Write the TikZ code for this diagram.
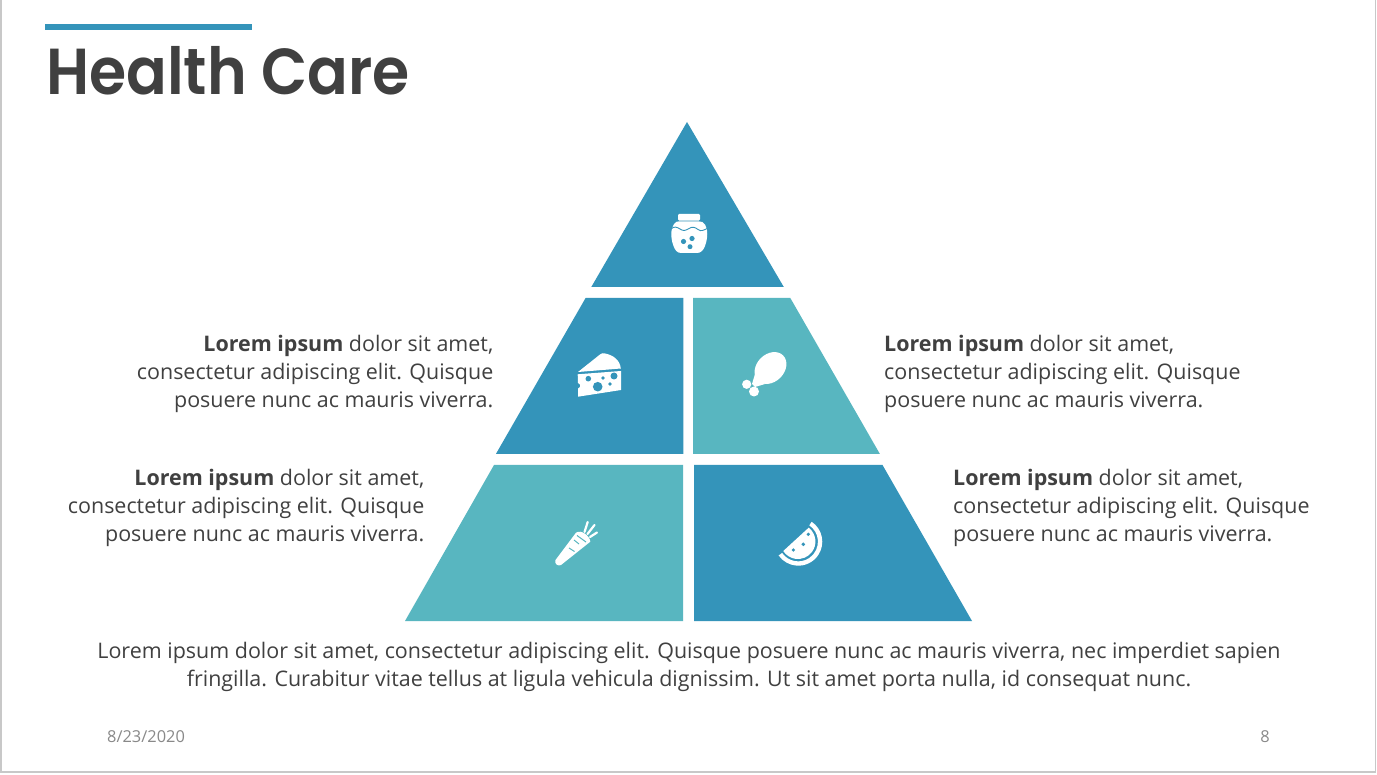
\documentclass[tikz,border=0pt]{standalone}
\usepackage{fontspec}
\usepackage{graphicx}
\setmainfont{Open Sans}
\newfontfamily\titlefont{Poppins}[BoldFont={Poppins SemiBold}]
\definecolor{blu}{HTML}{3494BA}
\definecolor{tea}{HTML}{58B6C0}
\definecolor{ink}{HTML}{404040}
\definecolor{foot}{HTML}{898989}
\definecolor{edge}{HTML}{C8C8C8}
\tikzset{
  para/.style={inner sep=0pt,text=ink,font=\fontsize{21.45}{28}\selectfont},
  ico/.style={fill=white,draw=none},
  hole/.style={fill=blu,draw=none},
  footer/.style={inner sep=0pt,text=foot,font=\fontsize{16.4}{18}\selectfont},
}
\begin{document}
\begin{tikzpicture}[x=1pt,y=-1pt]
\useasboundingbox (0,0) rectangle (1377,775);
\fill[white] (0,0) rectangle (1377,775);
\draw[edge,line width=1.2pt] (1,0) -- (1,772) -- (1375.5,772) -- (1375.5,0);
\fill[blu] (45,24) rectangle (252,30);
\node[anchor=base west,inner sep=0pt,text=ink,font=\fontsize{65}{65}\selectfont\titlefont\bfseries] (title) at (46,94.5) {\scalebox{0.925}[1]{Health Care}};
% pyramid
\fill[blu] (687,122) -- (783.8,287) -- (591.3,287) -- cycle;
\fill[blu] (585.6,298) -- (683.3,298) -- (683.3,453.8) -- (496,453.8) -- cycle;
\fill[tea] (693,298) -- (790.3,298) -- (879.8,453.8) -- (693,453.8) -- cycle;
\fill[tea] (494,465) -- (683.2,465) -- (683.2,621) -- (405,621) -- cycle;
\fill[blu] (694,465) -- (882.5,465) -- (972,621) -- (694,621) -- cycle;
% jar
\fill[ico,rounded corners=1.2pt] (678,214) rectangle (700,220.6);
\fill[ico] (674,224) .. controls (675,221.5) and (678,221.3) .. (680,221.3) -- (698,221.3) .. controls (701,221.3) and (704,222) .. (705,224.5)
  .. controls (708,229) and (708,238) .. (705,246) .. controls (703.5,250) and (701,253) .. (697,253) -- (681,253) .. controls (677,253) and (675,250) .. (673.5,246)
  .. controls (670.5,238) and (670.5,229) .. (674,224) -- cycle;
\draw[blu,line width=0.9pt] (671,229) .. controls (674,226) and (677,227) .. (680,229) .. controls (683,231) and (685,231) .. (689,228.5) .. controls (692,226.5) and (695,227) .. (698,229.5) .. controls (701,232) and (704,230) .. (708,228);
\fill[hole] (683.5,241.5) circle (2.6pt) (692,238.5) circle (2.6pt) (690,246.7) circle (2.5pt);
% cheese
\fill[ico] (578,372) -- (600,354.5) .. controls (601.5,353) and (603,353) .. (605,353.5) .. controls (613,355) and (620,360) .. (620.8,368.5) -- cycle;
\fill[ico] (577.7,374.3) -- (621,371) -- (621,390) -- (578,396.7) -- (578,388.5) .. controls (581,387.5) and (581,384) .. (578,383) -- cycle;
\fill[hole] (588.3,378.7) circle (2.8pt) (603,378) circle (1.9pt) (614,376) circle (3.5pt) (597.7,386.7) circle (4.8pt) (610,384) circle (1.9pt);
% drumstick
\fill[ico,rotate around={45:(770.5,368)}] (770.5,368) ellipse (17.8pt and 13.8pt);
\fill[ico] (755,374) -- (765,384) -- (755,387) -- (752,384) -- cycle;
\fill[ico] (746.7,384.3) circle (4.6pt) (754,391.5) circle (5pt);
% carrot
\fill[ico] (576,532.7) .. controls (581,529) and (590,536) .. (590.3,541.7) -- (561,565) .. controls (558,566.5) and (554,564) .. (555.5,560) -- cycle;
\draw[tea,line width=1pt] (577,535.5) -- (586,542);
\draw[tea,line width=1pt] (574,540) -- (579,544);
\draw[tea,line width=1pt] (569,548) -- (574.5,551.5);
\draw[white,line width=2.2pt,line cap=round] (584.5,532) -- (587.7,522);
\draw[white,line width=2.2pt,line cap=round] (587.5,534) -- (594.5,525);
\draw[white,line width=2.2pt,line cap=round] (590,537) -- (597,532.5);
% watermelon
\fill[ico] (811.7,521.8) arc[start angle=56,end angle=-145,radius=24pt] -- ++(3.5,-2.5) arc[start angle=-145,end angle=56,radius=19.7pt] -- cycle;
\fill[ico] (808.7,527.7) arc[start angle=52,end angle=-147,radius=17.5pt] -- cycle;
\fill[hole] (808.3,534.3) circle (1.8pt) (803.3,544.3) circle (1.9pt) (793.3,550) circle (1.8pt);
% texts
\node[para,align=right,anchor=east] (tl) at (493.5,373.7) {\textbf{Lorem ipsum} dolor sit amet,\\consectetur adipiscing elit. Quisque\\posuere nunc ac mauris viverra.};
\node[para,align=left,anchor=west] (tr) at (884,373.7) {\textbf{Lorem ipsum} dolor sit amet,\\consectetur adipiscing elit. Quisque\\posuere nunc ac mauris viverra.};
\node[para,align=right,anchor=east] (bl) at (424.5,507.7) {\textbf{Lorem ipsum} dolor sit amet,\\consectetur adipiscing elit. Quisque\\posuere nunc ac mauris viverra.};
\node[para,align=left,anchor=west] (br) at (953,507.7) {\textbf{Lorem ipsum} dolor sit amet,\\consectetur adipiscing elit. Quisque\\posuere nunc ac mauris viverra.};
\node[para,align=center,anchor=center] (foot) at (689,666.5) {Lorem ipsum dolor sit amet, consectetur adipiscing elit. Quisque posuere nunc ac mauris viverra, nec imperdiet sapien\\fringilla. Curabitur vitae tellus at ligula vehicula dignissim. Ut sit amet porta nulla, id consequat nunc.};
\node[footer,anchor=west] (date) at (107,737) {8/23/2020};
\node[footer,anchor=east] (num) at (1270,737) {8};
\end{tikzpicture}
\end{document}
